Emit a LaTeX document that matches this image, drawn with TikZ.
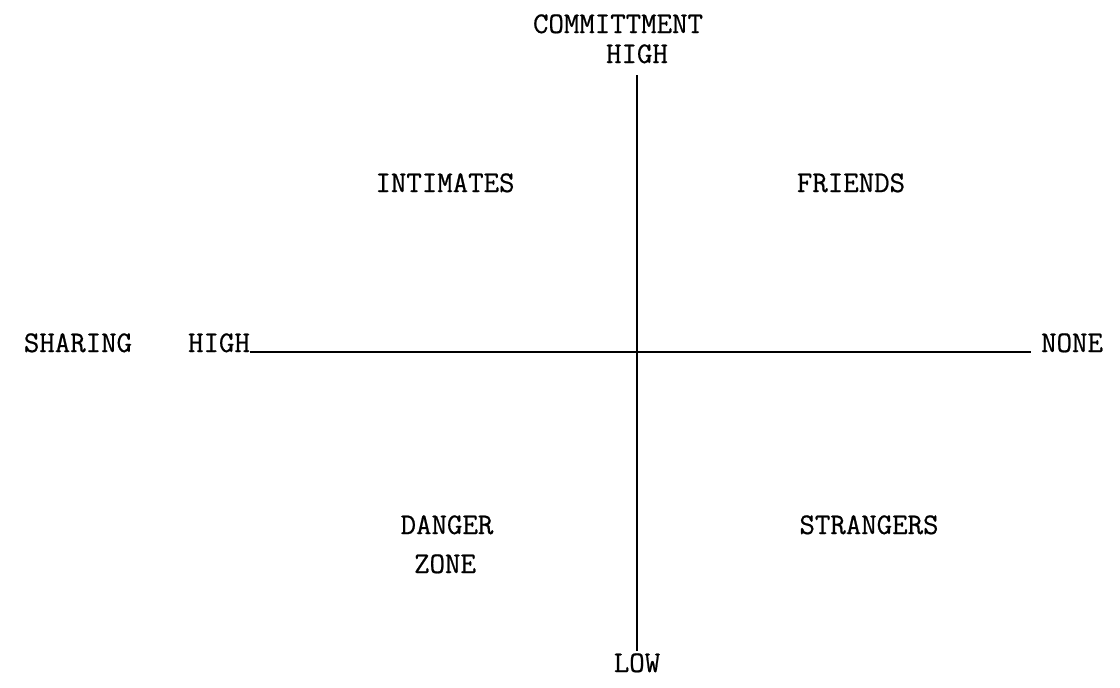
\documentclass[tikz,border=0pt]{standalone}
\usepackage{fontspec}
\newfontfamily\lblfont[FakeBold=0.6]{Latin Modern Mono}
\begin{document}
\begin{tikzpicture}[x=0.75pt,y=-0.75pt,
  lbl/.style={font=\lblfont\bfseries\fontsize{22.5}{26}\selectfont, inner sep=0pt, anchor=base},
  axis/.style={line width=1.5pt}]
\useasboundingbox (0,0) rectangle (1120,687);
\fill[white] (0,0) rectangle (1120,687);
\node[lbl] (commit) at (618,33) {COMMITTMENT};
\node[lbl] (hightop) at (637,63) {HIGH};
\node[lbl] (sharing) at (78,352) {SHARING};
\node[lbl] (highleft) at (219,352) {HIGH};
\node[lbl] (none) at (1072,352) {NONE};
\node[lbl] (low) at (637,672) {LOW};
\node[lbl] at (445,192) {INTIMATES};
\node[lbl] at (851,192) {FRIENDS};
\node[lbl] at (447,534) {DANGER};
\node[lbl] at (445,573) {ZONE};
\node[lbl] at (869,534) {STRANGERS};
\coordinate (vtop) at (637,75);
\coordinate (vbot) at (637,651);
\coordinate (hl) at (250,352);
\coordinate (hr) at (1031,352);
\draw[axis] (vtop) -- (vbot);
\draw[axis] (hl) -- (hr);
\end{tikzpicture}
\end{document}
